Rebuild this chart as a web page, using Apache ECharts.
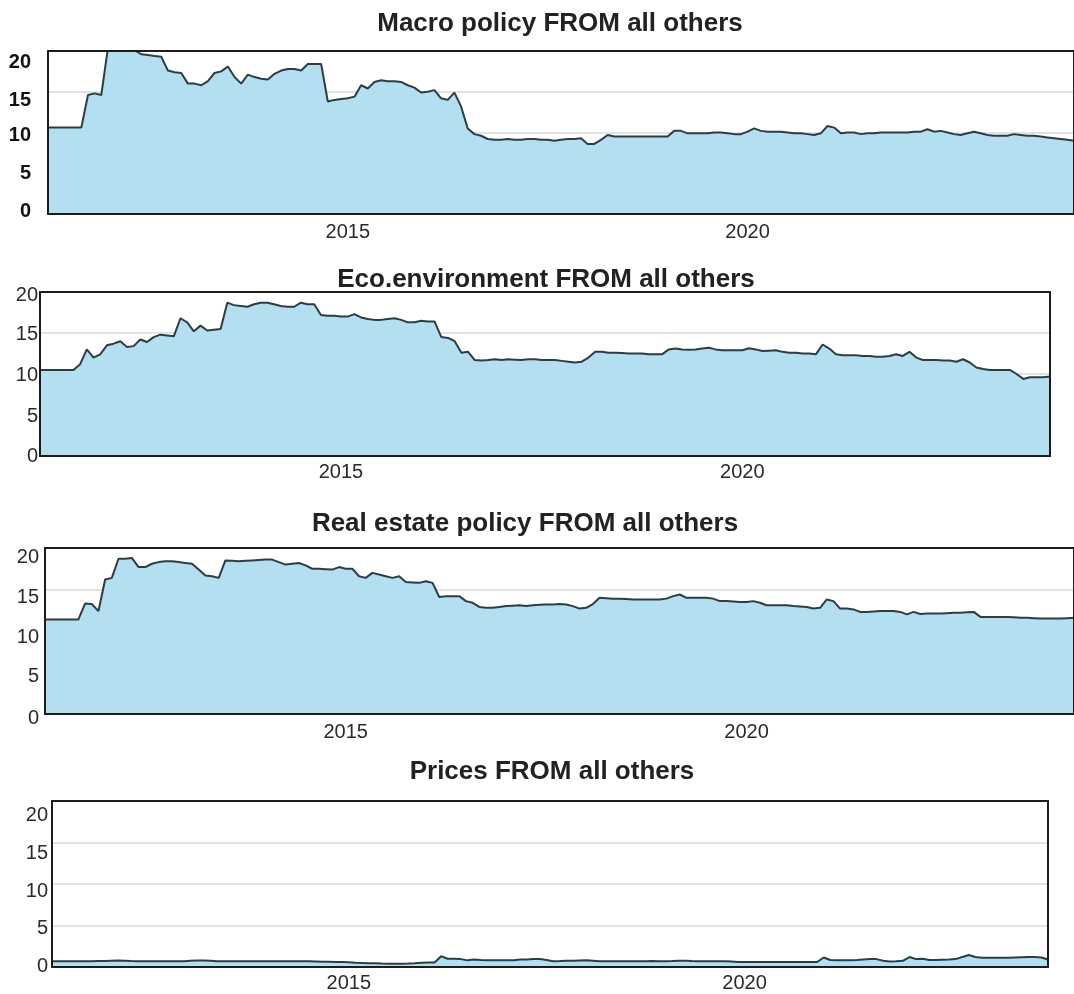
<!DOCTYPE html>
<html>
<head>
<meta charset="utf-8">
<title>Spillovers FROM all others</title>
<script src="https://cdn.jsdelivr.net/npm/echarts@6/dist/echarts.min.js"></script>
<style>
    html, body { margin: 0; padding: 0; background: #fff; }
    #chart { width: 1074px; height: 994px; }
</style>
</head>
<body>
<div id="chart"></div>
<script>
    // monthly categories 2011-04 .. 2024-02
    const months = [];
    let yy = 2011, mm = 4;
    while (yy * 12 + mm <= 2024 * 12 + 2) {
        months.push(yy + '-' + String(mm).padStart(2, '0'));
        mm++;
        if (mm > 12) { mm = 1; yy++; }
    }

    const yearLabels = ['2015', '2020'];
    const yTicks = [0, 5, 10, 15, 20];

    const macroPolicy = [
        10.6, 10.6, 10.6, 10.6, 10.6, 10.6, 14.6, 14.8, 14.6, 20.4,
        20.4, 20.3, 20.2, 20.1, 19.6, 19.5, 19.4, 19.3, 17.6, 17.4,
        17.3, 16.0, 16.0, 15.8, 16.3, 17.3, 17.5, 18.1, 16.8, 16.0,
        17.1, 16.8, 16.6, 16.5, 17.2, 17.6, 17.8, 17.8, 17.6, 18.4,
        18.4, 18.4, 13.8, 14.0, 14.1, 14.2, 14.4, 15.8, 15.4, 16.2,
        16.4, 16.3, 16.3, 16.2, 15.8, 15.5, 14.9, 15.0, 15.2, 14.2,
        14.0, 14.9, 13.2, 10.5, 9.8, 9.6, 9.2, 9.1, 9.1, 9.2,
        9.1, 9.1, 9.2, 9.2, 9.1, 9.1, 9.0, 9.1, 9.2, 9.2,
        9.3, 8.6, 8.6, 9.1, 9.7, 9.5, 9.5, 9.5, 9.5, 9.5,
        9.5, 9.5, 9.5, 9.5, 10.2, 10.2, 9.9, 9.9, 9.9, 9.9,
        10.0, 10.0, 9.9, 9.8, 9.8, 10.1, 10.5, 10.2, 10.1, 10.1,
        10.1, 10.0, 9.9, 9.9, 9.8, 9.7, 9.9, 10.8, 10.6, 9.9,
        10.0, 10.0, 9.8, 9.9, 9.9, 10.0, 10.0, 10.0, 10.0, 10.0,
        10.1, 10.1, 10.4, 10.1, 10.2, 10.0, 9.8, 9.7, 9.9, 10.1,
        9.9, 9.7, 9.6, 9.6, 9.6, 9.8, 9.7, 9.6, 9.6, 9.5,
        9.4, 9.3, 9.2, 9.1, 9.0
    ];

    const ecoEnvironment = [
        10.5, 10.5, 10.5, 10.5, 10.5, 10.5, 11.2, 13.0, 12.0, 12.4,
        13.5, 13.7, 14.0, 13.3, 13.4, 14.2, 13.9, 14.5, 14.8, 14.7,
        14.6, 16.8, 16.3, 15.2, 15.9, 15.3, 15.4, 15.5, 18.7, 18.4,
        18.3, 18.2, 18.5, 18.7, 18.7, 18.5, 18.3, 18.2, 18.2, 18.7,
        18.5, 18.5, 17.2, 17.1, 17.1, 17.0, 17.0, 17.3, 16.9, 16.7,
        16.6, 16.6, 16.7, 16.8, 16.6, 16.3, 16.3, 16.5, 16.4, 16.4,
        14.5, 14.4, 14.0, 12.6, 12.7, 11.7, 11.65, 11.7, 11.8, 11.7,
        11.8, 11.75, 11.7, 11.8, 11.8, 11.7, 11.7, 11.7, 11.6, 11.5,
        11.4, 11.5, 12.0, 12.7, 12.7, 12.6, 12.6, 12.55, 12.5, 12.5,
        12.5, 12.4, 12.4, 12.4, 13.0, 13.1, 13.0, 12.95, 13.0, 13.1,
        13.2, 13.0, 12.9, 12.9, 12.9, 12.9, 13.15, 13.0, 12.8, 12.85,
        12.9, 12.7, 12.6, 12.6, 12.5, 12.5, 12.4, 13.6, 13.1, 12.4,
        12.3, 12.3, 12.3, 12.2, 12.2, 12.1, 12.1, 12.2, 12.4, 12.2,
        12.7, 12.0, 11.7, 11.7, 11.7, 11.65, 11.65, 11.5, 11.8, 11.4,
        10.8, 10.6, 10.5, 10.5, 10.5, 10.5, 10.0, 9.4, 9.6, 9.6,
        9.6, 9.7
    ];

    const realEstatePolicy = [
        11.4, 11.4, 11.4, 11.4, 11.4, 11.4, 13.3, 13.25, 12.4, 16.2,
        16.4, 18.7, 18.7, 18.8, 17.7, 17.7, 18.1, 18.3, 18.4, 18.4,
        18.3, 18.2, 18.1, 17.4, 16.7, 16.6, 16.4, 18.5, 18.45, 18.4,
        18.45, 18.5, 18.55, 18.6, 18.6, 18.3, 18.0, 18.1, 18.2, 17.9,
        17.5, 17.5, 17.45, 17.4, 17.7, 17.5, 17.5, 16.6, 16.4, 17.0,
        16.8, 16.6, 16.4, 16.6, 15.9, 15.85, 15.8, 16.0, 15.8, 14.1,
        14.2, 14.2, 14.2, 13.6, 13.4, 12.9, 12.8, 12.8, 12.9, 13.0,
        13.05, 13.1, 13.0, 13.1, 13.15, 13.2, 13.2, 13.25, 13.2, 13.0,
        12.7, 12.8, 13.25, 14.0, 13.95, 13.9, 13.9, 13.85, 13.8, 13.8,
        13.8, 13.8, 13.8, 13.9, 14.2, 14.4, 14.0, 14.0, 14.0, 14.0,
        13.9, 13.6, 13.6, 13.55, 13.5, 13.5, 13.6, 13.4, 13.1, 13.1,
        13.1, 13.1, 13.0, 12.95, 12.9, 12.7, 12.8, 13.8, 13.6, 12.7,
        12.7, 12.6, 12.3, 12.3, 12.35, 12.4, 12.4, 12.4, 12.3, 12.0,
        12.3, 12.05, 12.1, 12.1, 12.1, 12.15, 12.2, 12.2, 12.25, 12.3,
        11.7, 11.7, 11.7, 11.7, 11.7, 11.65, 11.6, 11.6, 11.55, 11.5,
        11.5, 11.5, 11.5, 11.55, 11.6
    ];

    const prices = [
        0.7, 0.7, 0.7, 0.7, 0.7, 0.7, 0.7, 0.72, 0.72, 0.75,
        0.78, 0.75, 0.72, 0.7, 0.7, 0.7, 0.7, 0.7, 0.7, 0.68,
        0.7, 0.75, 0.78, 0.78, 0.75, 0.7, 0.68, 0.68, 0.68, 0.68,
        0.68, 0.68, 0.68, 0.68, 0.68, 0.68, 0.7, 0.7, 0.7, 0.68,
        0.65, 0.62, 0.62, 0.6, 0.6, 0.58, 0.5, 0.48, 0.45, 0.45,
        0.42, 0.4, 0.4, 0.4, 0.42, 0.45, 0.5, 0.55, 0.55, 1.3,
        1.0, 1.0, 0.95, 0.8, 0.9, 0.85, 0.82, 0.8, 0.8, 0.8,
        0.82, 0.9, 0.9, 0.95, 0.95, 0.85, 0.7, 0.72, 0.75, 0.75,
        0.78, 0.8, 0.75, 0.7, 0.7, 0.7, 0.7, 0.7, 0.7, 0.7,
        0.7, 0.72, 0.7, 0.7, 0.72, 0.75, 0.75, 0.72, 0.7, 0.7,
        0.7, 0.7, 0.7, 0.65, 0.6, 0.6, 0.6, 0.6, 0.6, 0.6,
        0.6, 0.6, 0.6, 0.6, 0.6, 0.6, 0.6, 1.15, 0.85, 0.8,
        0.8, 0.82, 0.85, 0.9, 0.95, 0.95, 0.75, 0.65, 0.68, 0.75,
        1.2, 0.95, 1.0, 0.85, 0.85, 0.88, 0.9, 0.95, 1.2, 1.45,
        1.2, 1.12, 1.1, 1.1, 1.1, 1.12, 1.15, 1.18, 1.2, 1.2,
        1.15, 0.9
    ];

    const FONT = "'Liberation Sans', Arial, Helvetica, sans-serif";
    const frameLine = { color: '#1c1c1c', width: 2 };

    // layout of the four stacked panels
    const panels = [
        { name: 'Macro policy FROM all others', data: macroPolicy,
          left: 48, top: 51, width: 1029, height: 163, last: 154,
          titleX: 560, titleY: 24, yBold: true, yMargin: 17, xMargin: 8,
          shift: { 0: -3, 5: 0.5, 10: 3, 15: 9, 20: 11 } },
        { name: 'Eco.environment FROM all others', data: ecoEnvironment,
          left: 40, top: 292, width: 1010, height: 164, last: 151,
          titleX: 546, titleY: 280, yBold: false, yMargin: 2, xMargin: 6,
          shift: { 0: 0, 5: 1, 10: 1, 15: 1, 20: 3 } },
        { name: 'Real estate policy FROM all others', data: realEstatePolicy,
          left: 45, top: 548, width: 1032, height: 166, last: 154,
          titleX: 525, titleY: 524, yBold: false, yMargin: 6, xMargin: 8,
          shift: { 0: 4, 5: 4, 10: 6, 15: 8, 20: 9 } },
        { name: 'Prices FROM all others', data: prices,
          left: 52, top: 801, width: 996, height: 166, last: 151,
          titleX: 552, titleY: 772, yBold: false, yMargin: 4, xMargin: 6,
          shift: { 0: -1, 5: 2.5, 10: 7, 15: 11, 20: 14 } }
    ];

    const option = {
        animation: false,
        backgroundColor: '#fff',
        title: [], grid: [], xAxis: [], yAxis: [], series: []
    };

    panels.forEach((p, i) => {
        option.title.push({
            text: p.name,
            left: p.titleX,
            top: p.titleY,
            textAlign: 'center',
            textVerticalAlign: 'middle',
            padding: 0,
            textStyle: { fontFamily: FONT, fontSize: 26, fontWeight: 'bold', color: '#222' }
        });
        option.grid.push({ left: p.left, top: p.top, width: p.width, height: p.height });

        // per-label vertical nudge, done with rich padding
        const rich = {};
        yTicks.forEach(t => {
            const d = p.shift[t] || 0;
            rich['s' + t] = {
                fontFamily: FONT,
                fontSize: 20,
                fontWeight: p.yBold ? 'bold' : 'normal',
                color: p.yBold ? '#111' : '#2a2a2a',
                padding: d >= 0 ? [2 * d, 0, 0, 0] : [0, 0, -2 * d, 0]
            };
        });

        // bottom x axis (year labels + frame)
        option.xAxis.push({
            gridIndex: i, type: 'category', position: 'bottom', data: months,
            boundaryGap: false, max: p.last, z: 10,
            axisLine: { show: true, onZero: false, lineStyle: frameLine },
            axisTick: { show: false },
            splitLine: { show: false },
            axisLabel: {
                margin: p.xMargin,
                interval: (idx, val) => val.slice(5) === '01' && yearLabels.indexOf(val.slice(0, 4)) > -1,
                formatter: v => v.slice(0, 4),
                fontFamily: FONT, fontSize: 20, color: '#2a2a2a'
            }
        });
        // top frame
        option.xAxis.push({
            gridIndex: i, type: 'category', position: 'top', data: months,
            boundaryGap: false, max: p.last, z: 10,
            axisLine: { show: true, onZero: false, lineStyle: frameLine },
            axisTick: { show: false }, axisLabel: { show: false }, splitLine: { show: false }
        });
        // y axis with labels and grid lines (drawn under the area)
        option.yAxis.push({
            gridIndex: i, type: 'value', position: 'left', min: 0, max: 20, interval: 5, z: 0,
            axisLine: { show: false, onZero: false }, axisTick: { show: false },
            splitLine: { show: true, lineStyle: { color: '#d9d9d9', width: 1.5 } },
            axisLabel: {
                margin: p.yMargin,
                formatter: v => '{s' + v + '|' + v + '}',
                rich: rich
            }
        });
        // left and right frame lines
        ['left', 'right'].forEach(pos => {
            option.yAxis.push({
                gridIndex: i, type: 'value', position: pos, min: 0, max: 20, z: 10,
                axisLine: { show: true, onZero: false, lineStyle: frameLine },
                axisTick: { show: false }, axisLabel: { show: false }, splitLine: { show: false }
            });
        });

        option.series.push({
            type: 'line',
            name: p.name,
            xAxisIndex: i * 2,
            yAxisIndex: i * 3,
            data: p.data,
            symbol: 'none',
            clip: true,
            lineStyle: { color: '#2f3c44', width: 2 },
            areaStyle: { color: '#b3dff0', opacity: 1 }
        });
    });

    const myChart = echarts.init(document.getElementById('chart'));
    myChart.setOption(option);
</script>
</body>
</html>
